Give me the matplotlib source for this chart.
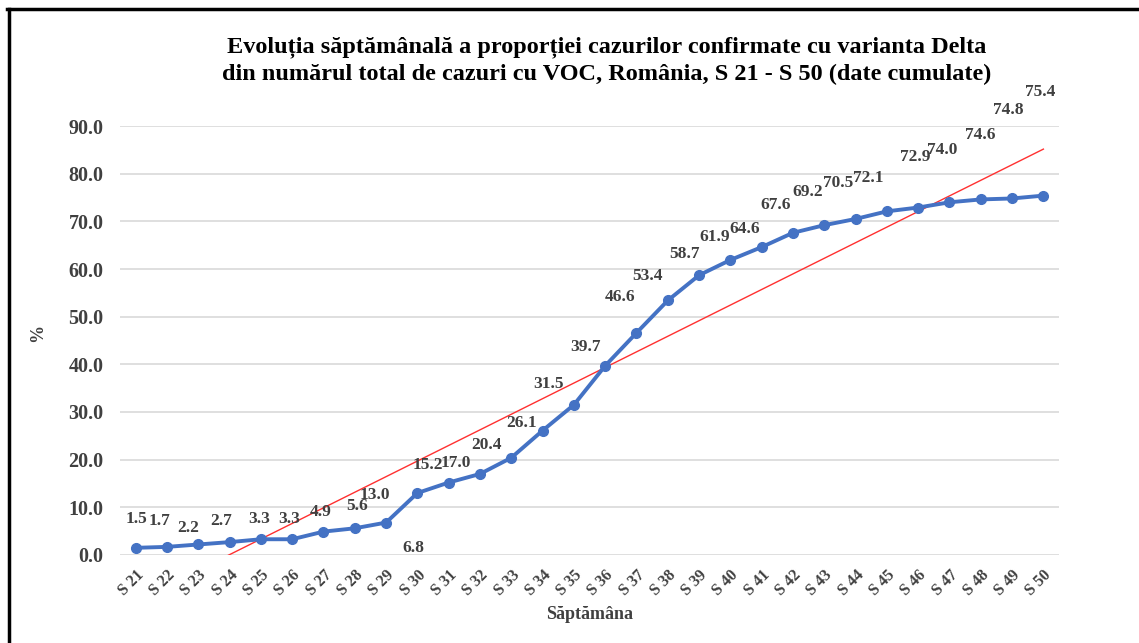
import matplotlib.pyplot as plt
import numpy as np
from matplotlib.lines import Line2D

weeks = [f'S {w}' for w in range(21, 51)]
values = [1.5, 1.7, 2.2, 2.7, 3.3, 3.3, 4.9, 5.6, 6.8, 13.0,
          15.2, 17.0, 20.4, 26.1, 31.5, 39.7, 46.6, 53.4, 58.7, 61.9,
          64.6, 67.6, 69.2, 70.5, 72.1, 72.9, 74.0, 74.6, 74.8, 75.4]
# label text as printed on the chart (S29 / S30 labels look swapped)
labels = ['1.5', '1.7', '2.2', '2.7', '3.3', '3.3', '4.9', '5.6', '13.0', '6.8',
          '15.2', '17.0', '20.4', '26.1', '31.5', '39.7', '46.6', '53.4', '58.7', '61.9',
          '64.6', '67.6', '69.2', '70.5', '72.1', '72.9', '74.0', '74.6', '74.8', '75.4']

# label offsets in pixels (dx right, dy down) from each point
offsets = [(1, -29), (-8, -26), (-10, -16), (-8, -21), (-2, -20), (-3, -20), (-3, -20),
           (2, -22), (-11, -28), (-4, 55), (-21, -18), (-24, -11), (-25, -13), (-21, -8),
           (-25, -21), (-20, -19), (-16, -36), (-20, -24), (-15, -21), (-16, -23),
           (-17, -18), (-17, -28), (-17, -33), (-17, -36), (-19, -33), (-3, -51),
           (-7, -52), (-1, -64), (-4, -88), (-3, -104)]

plt.rcParams['font.family'] = ['Liberation Serif', 'DejaVu Serif']
txt = '#404040'

fig = plt.figure(figsize=(11.39, 6.43), dpi=100)
ax = fig.add_axes([0.1054, 0.1369, 0.8244, 0.6671])

x = np.arange(len(weeks))
y = np.array(values)

ax.plot(x, y, color='#4472C4', lw=2.8, marker='o', ms=7, zorder=3)

# linear trendline
k, b = np.polyfit(x, y, 1)
xt = np.array([x[0] - 0.5, x[-1]])
ax.plot(xt, k * xt + b, color='#FF3030', lw=1.0, zorder=2)

for xi, yi, lab, (dx, dy) in zip(x, y, labels, offsets):
    ax.annotate(lab, (xi, yi), xytext=(dx, -dy), textcoords='offset pixels',
                ha='center', va='center', fontsize=12.5, fontweight='bold',
                color=txt, annotation_clip=False, zorder=4)

ax.set_xlim(-0.5, len(weeks) - 0.5)
ax.set_ylim(0, 90)
ax.set_yticks(np.arange(0, 91, 10))
ax.set_yticklabels([f'{v:.1f}' for v in np.arange(0, 91, 10)],
                   fontsize=14.5, fontweight='bold', color=txt)
ax.set_xticks(x)
ax.set_xticklabels(weeks, rotation=45, ha='right', va='top', rotation_mode='anchor',
                   fontsize=11.5, fontweight='bold', color=txt)
ax.tick_params(length=0, pad=12)
ax.tick_params(axis='x', pad=9)
ax.grid(axis='y', color='#D9D9D9', lw=1.2)
ax.set_axisbelow(True)
for s in ax.spines.values():
    s.set_visible(False)

fig.text(0.533, 0.905, 'Evoluția săptămânală a proporției cazurilor confirmate cu varianta Delta\n'
         'din numărul total de cazuri cu VOC, România, S 21 - S 50 (date cumulate)',
         ha='center', va='center', fontsize=17.5, fontweight='bold', color='black',
         linespacing=1.35)
fig.text(0.518, 0.045, 'Săptămâna', ha='center', va='center', fontsize=13,
         fontweight='bold', color=txt)
fig.text(0.033, 0.482, '%', ha='center', va='center', rotation=90, fontsize=13,
         fontweight='bold', color=txt)

# black frame: top and left edges
fig.add_artist(Line2D([0.006, 1.0], [0.9855, 0.9855], color='black', lw=2.5,
                      transform=fig.transFigure))
fig.add_artist(Line2D([0.0075, 0.0075], [0.0, 0.9855], color='black', lw=2.5,
                      transform=fig.transFigure))

fig.savefig('out.png', dpi=100)
